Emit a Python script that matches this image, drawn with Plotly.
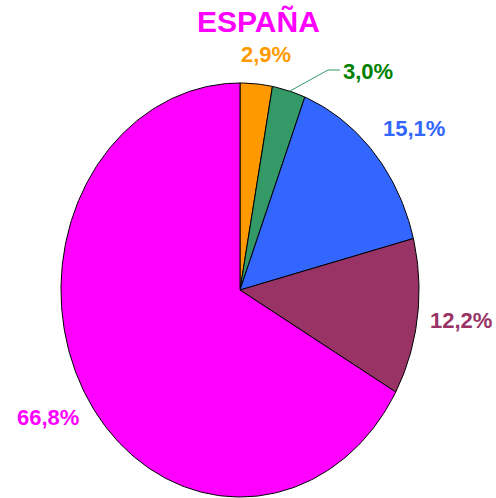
import numpy as np
import plotly.graph_objects as go

# ---- data ----
categories = ["A", "B", "C", "D", "E"]
values = [2.9, 3.0, 15.1, 12.2, 66.8]
labels = ["2,9%", "3,0%", "15,1%", "12,2%", "66,8%"]
slice_colors = ["#FF9900", "#339966", "#3366FF", "#993366", "#FF00FF"]
label_colors = ["#FF9900", "#008000", "#3366FF", "#993366", "#FF00FF"]
title_text = "ESPAÑA"

# ---- geometry (pixel-like axis space) ----
W, H = 496, 498
cx, cy, rx, ry = 240, 290, 179, 207
label_pos = [(266, 54), (368, 71), (414, 128), (461, 320), (48, 417)]

fig = go.Figure()
total = sum(values)
start = 0.0
for v, col, name in zip(values, slice_colors, categories):
    a0 = start / total * 2 * np.pi
    a1 = (start + v) / total * 2 * np.pi
    n = max(4, int((a1 - a0) / (2 * np.pi) * 360))
    t = np.linspace(a0, a1, n)
    xs = np.concatenate([[cx], cx + rx * np.sin(t), [cx]])
    ys = np.concatenate([[cy], cy - ry * np.cos(t), [cy]])
    fig.add_trace(go.Scatter(x=xs, y=ys, mode="lines", fill="toself",
                             fillcolor=col, line=dict(color="black", width=1),
                             name=name, hoverinfo="name", showlegend=False))
    start += v

for (lx, ly), txt, col in zip(label_pos, labels, label_colors):
    fig.add_annotation(x=lx, y=ly, xref="x", yref="y", text="<b>" + txt + "</b>",
                       showarrow=False,
                       font=dict(family="Liberation Sans, Arial", size=22, color=col),
                       xanchor="center", yanchor="middle")

# leader line for small slice
fig.add_shape(type="path", path="M 290 91 L 328 70 L 340 70",
              xref="x", yref="y", line=dict(color="#339966", width=1))

fig.add_annotation(x=258, y=21, xref="x", yref="y", text="<b>" + title_text + "</b>",
                   showarrow=False, xanchor="center", yanchor="middle",
                   font=dict(family="Liberation Sans, Arial", size=30, color="#FF00FF"))

fig.update_layout(width=W, height=H, margin=dict(l=0, r=0, t=0, b=0),
                  paper_bgcolor="white", plot_bgcolor="white", showlegend=False,
                  hovermode=False,
                  xaxis=dict(range=[0, W], visible=False, fixedrange=True),
                  yaxis=dict(range=[H, 0], visible=False, fixedrange=True))
fig.write_html("out.html", config={"displayModeBar": False},
               post_script="document.body.style.margin='0';document.body.style.overflow='hidden';")
